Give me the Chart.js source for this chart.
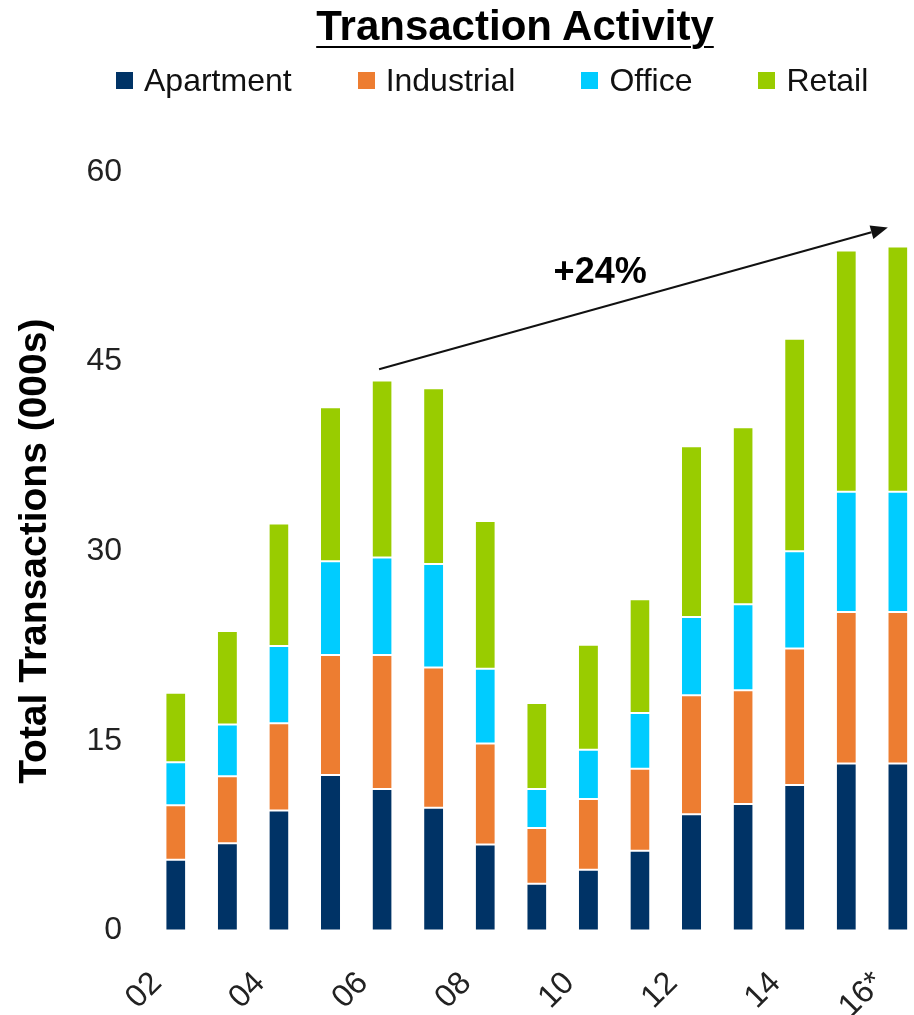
<!DOCTYPE html>
<html>
<head>
<meta charset="utf-8">
<title>Transaction Activity</title>
<script src="https://cdn.jsdelivr.net/npm/chart.js@4"></script>
<style>
  html, body { margin: 0; padding: 0; background: #fff; overflow: hidden; }
  #wrap { position: relative; width: 960px; height: 1064px; }
  #chart { position: absolute; left: 0; top: 0; }
  #title {
    position: absolute; left: 0; top: 5px; width: 1030px;
    text-align: center;
    font: bold 42px/42px "Liberation Sans", Arial, sans-serif;
    color: #000;
    text-decoration: underline;
    text-decoration-thickness: 2px;
    text-underline-offset: 6px;
  }
  #legend {
    position: absolute; left: 116px; top: 64px;
    margin: 0; padding: 0; list-style: none;
    display: flex;
    font: 32px/32px "Liberation Sans", Arial, sans-serif;
    color: #111;
  }
  #legend li { display: flex; align-items: center; margin-right: 66px; white-space: nowrap; }
  #legend .swatch { display: inline-block; width: 17px; height: 17px; margin-right: 11px; }
</style>
</head>
<body>
<div id="wrap">
  <canvas id="chart" width="960" height="1064"></canvas>
  <div id="title">Transaction Activity</div>
  <ul id="legend"></ul>
</div>
<script>
// Years on the x axis (16* is an estimate)
const years = ['02', '03', '04', '05', '06', '07', '08', '09', '10', '11', '12', '13', '14', '15', '16*'];
// Only every other year gets a label
const shownYears = ['02', '04', '06', '08', '10', '12', '14', '16*'];
const yTicks = [0, 15, 30, 45, 60];

// Transactions by property type, thousands
const apartment  = [5.6, 6.9, 9.5, 12.3, 11.2, 9.7, 6.8, 3.7, 4.8, 6.3, 9.2, 10.0, 11.5, 13.2, 13.2];
const industrial = [4.3, 5.3, 6.9, 9.5, 10.6, 11.1, 8.0, 4.4, 5.6, 6.5, 9.4, 9.0, 10.8, 12.0, 12.0];
const office     = [3.4, 4.1, 6.1, 7.4, 7.7, 8.2, 5.9, 3.1, 3.9, 4.4, 6.2, 6.8, 7.7, 9.5, 9.5];
const retail     = [5.5, 7.4, 9.7, 12.2, 14.0, 13.9, 11.7, 6.8, 8.3, 9.0, 13.5, 14.0, 16.8, 19.1, 19.4];

// Growth arrow runs from the 06 peak to 16*
const growthFrom = '06';
const growthTo = '16*';

const totals = years.map((_, i) => apartment[i] + industrial[i] + office[i] + retail[i]);

const FONT = '"Liberation Sans", Arial, sans-serif';
Chart.defaults.font.family = FONT;

function series(label, data, color) {
  return {
    label: label,
    data: data,
    backgroundColor: color,
    borderColor: '#ffffff',
    borderWidth: { top: 1, bottom: 1, left: 0, right: 0 },
    borderSkipped: false,
    categoryPercentage: 1,
    barPercentage: 0.37
  };
}

// Arrow and percentage label drawn over the bars
const growthArrow = {
  id: 'growthArrow',
  afterDatasetsDraw(chart) {
    const { ctx, scales: { x, y } } = chart;
    const i0 = years.indexOf(growthFrom);
    const i1 = years.indexOf(growthTo);
    const x0 = x.getPixelForValue(i0) - 3;
    const y0 = y.getPixelForValue(totals[i0] + 0.9);
    const x1 = x.getPixelForValue(i1) - 10;
    const y1 = y.getPixelForValue(totals[i1] + 1.5);
    const ang = Math.atan2(y1 - y0, x1 - x0);
    const headLen = 17, headHalf = 7;

    ctx.save();
    ctx.strokeStyle = '#111';
    ctx.fillStyle = '#111';
    ctx.lineWidth = 2;
    ctx.beginPath();
    ctx.moveTo(x0, y0);
    ctx.lineTo(x1 - headLen * Math.cos(ang), y1 - headLen * Math.sin(ang));
    ctx.stroke();

    ctx.beginPath();
    ctx.moveTo(x1, y1);
    ctx.lineTo(x1 - headLen * Math.cos(ang) + headHalf * Math.sin(ang),
               y1 - headLen * Math.sin(ang) - headHalf * Math.cos(ang));
    ctx.lineTo(x1 - headLen * Math.cos(ang) - headHalf * Math.sin(ang),
               y1 - headLen * Math.sin(ang) + headHalf * Math.cos(ang));
    ctx.closePath();
    ctx.fill();

    const pct = Math.round((totals[i1] / totals[i0] - 1) * 100);
    const t = 0.4345;
    const tx = x0 + t * (x1 - x0);
    const ty = y0 + t * (y1 - y0) - 35;
    ctx.font = 'bold 36px ' + FONT;
    ctx.fillStyle = '#000';
    ctx.textAlign = 'center';
    ctx.textBaseline = 'middle';
    ctx.fillText('+' + pct + '%', tx, ty);
    ctx.restore();
  }
};

const chart = new Chart(document.getElementById('chart').getContext('2d'), {
  type: 'bar',
  data: {
    labels: years,
    datasets: [
      series('Apartment', apartment, '#003366'),
      series('Industrial', industrial, '#ED7D31'),
      series('Office', office, '#00CCFF'),
      series('Retail', retail, '#99CC00')
    ]
  },
  options: {
    responsive: false,
    animation: false,
    layout: {
      padding: { top: 172, right: 30, bottom: 4.4, left: 0 }
    },
    plugins: {
      legend: { display: false },
      title: { display: false },
      tooltip: { enabled: false }
    },
    scales: {
      x: {
        stacked: true,
        grid: { display: false, drawTicks: false },
        border: { display: false },
        ticks: {
          autoSkip: false,
          minRotation: 45,
          maxRotation: 45,
          padding: 34,
          labelOffset: -19,
          color: '#222',
          font: { size: 32 },
          callback: (value, index) => shownYears.includes(years[index]) ? years[index] : ''
        }
      },
      y: {
        stacked: true,
        min: 0,
        max: 60,
        grid: { display: false, drawTicks: false },
        border: { display: false },
        afterBuildTicks: axis => {
          axis.ticks = yTicks.map(v => ({ value: v }));
        },
        ticks: {
          padding: 28,
          color: '#222',
          font: { size: 32 }
        },
        title: {
          display: true,
          text: 'Total Transactions (000s)',
          color: '#000',
          font: { size: 39, weight: 'bold' },
          padding: { top: 11.6, bottom: 0 }
        }
      }
    }
  },
  plugins: [growthArrow]
});

// HTML legend built from the chart's datasets
const legendEl = document.getElementById('legend');
chart.data.datasets.forEach(ds => {
  const li = document.createElement('li');
  const box = document.createElement('span');
  box.className = 'swatch';
  box.style.background = ds.backgroundColor;
  const txt = document.createElement('span');
  txt.textContent = ds.label;
  li.append(box, txt);
  legendEl.appendChild(li);
});
</script>
</body>
</html>
